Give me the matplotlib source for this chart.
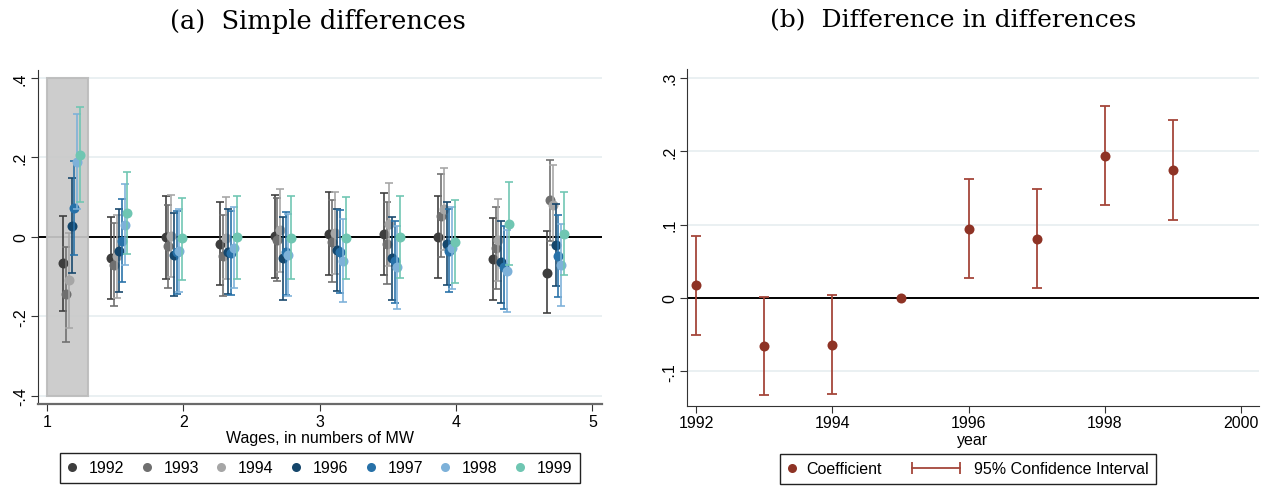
import numpy as np
import matplotlib
matplotlib.use("Agg")
import matplotlib.pyplot as plt
from matplotlib.lines import Line2D
from matplotlib.patches import Rectangle
from matplotlib.legend_handler import HandlerLine2D

plt.rcParams['font.family'] = ['Liberation Sans', 'DejaVu Sans']

# ---- panel (a): simple differences by wage bin ----
bins = [1.15, 1.5, 1.9, 2.3, 2.7, 3.1, 3.5, 3.9, 4.3, 4.7]
years_a = ['1992', '1993', '1994', '1996', '1997', '1998', '1999']

coef_1992 = [-0.066, -0.053, 0.000, -0.018, 0.001, 0.008, 0.006, 0.000, -0.056, -0.090]
lo_1992 = [-0.186, -0.157, -0.105, -0.121, -0.103, -0.096, -0.097, -0.103, -0.159, -0.193]
hi_1992 = [0.053, 0.051, 0.102, 0.087, 0.105, 0.112, 0.110, 0.103, 0.048, 0.014]

coef_1993 = [-0.145, -0.070, -0.024, -0.048, -0.008, -0.012, -0.017, 0.053, -0.029, 0.092]
lo_1993 = [-0.264, -0.174, -0.128, -0.150, -0.111, -0.115, -0.120, -0.052, -0.132, -0.011]
hi_1993 = [-0.026, 0.034, 0.079, 0.056, 0.097, 0.092, 0.087, 0.158, 0.074, 0.194]

coef_1994 = [-0.110, -0.049, 0.001, -0.004, 0.018, 0.010, 0.031, 0.070, -0.008, 0.080]
lo_1994 = [-0.229, -0.153, -0.102, -0.107, -0.088, -0.094, -0.073, -0.034, -0.111, -0.021]
hi_1994 = [0.009, 0.055, 0.105, 0.099, 0.120, 0.114, 0.135, 0.173, 0.095, 0.181]

coef_1996 = [0.028, -0.035, -0.045, -0.038, -0.054, -0.033, -0.054, -0.018, -0.063, -0.021]
lo_1996 = [-0.092, -0.138, -0.148, -0.143, -0.158, -0.137, -0.158, -0.121, -0.167, -0.124]
hi_1996 = [0.147, 0.069, 0.059, 0.069, 0.050, 0.070, 0.049, 0.087, 0.040, 0.082]

coef_1997 = [0.073, -0.010, -0.039, -0.041, -0.039, -0.038, -0.060, -0.035, -0.075, -0.048]
lo_1997 = [-0.046, -0.113, -0.143, -0.146, -0.146, -0.141, -0.166, -0.138, -0.182, -0.152]
hi_1997 = [0.191, 0.094, 0.064, 0.064, 0.063, 0.067, 0.040, 0.070, 0.026, 0.055]

coef_1998 = [0.189, 0.030, -0.035, -0.027, -0.046, -0.060, -0.077, -0.029, -0.086, -0.070]
lo_1998 = [0.070, -0.072, -0.140, -0.130, -0.150, -0.164, -0.181, -0.132, -0.190, -0.174]
hi_1998 = [0.308, 0.134, 0.069, 0.076, 0.057, 0.044, 0.027, 0.074, 0.018, 0.032]

coef_1999 = [0.206, 0.061, -0.004, 0.000, -0.002, -0.002, -0.001, -0.013, 0.033, 0.008]
lo_1999 = [0.087, -0.043, -0.108, -0.106, -0.105, -0.106, -0.104, -0.116, -0.071, -0.096]
hi_1999 = [0.326, 0.164, 0.098, 0.102, 0.102, 0.101, 0.103, 0.092, 0.137, 0.112]

coefs_a = [coef_1992, coef_1993, coef_1994, coef_1996, coef_1997, coef_1998, coef_1999]
los_a = [lo_1992, lo_1993, lo_1994, lo_1996, lo_1997, lo_1998, lo_1999]
his_a = [hi_1992, hi_1993, hi_1994, hi_1996, hi_1997, hi_1998, hi_1999]

# ---- panel (b): difference in differences ----
years_b = [1992, 1993, 1994, 1995, 1996, 1997, 1998, 1999]
coef_b = [0.017, -0.066, -0.064, 0.000, 0.094, 0.080, 0.193, 0.174]
lo_b = [-0.050, -0.133, -0.131, np.nan, 0.027, 0.013, 0.126, 0.106]
hi_b = [0.085, 0.001, 0.004, np.nan, 0.162, 0.148, 0.261, 0.242]

colors = ['#3d3d3d', '#6f6f6f', '#a6a6a6', '#15466b', '#2771a8', '#7db1d9', '#6fc6b2']
offsets = [-0.03, -0.01, 0.01, 0.03, 0.05, 0.07, 0.09]
grid_c = '#e6eef0'
red = '#8e3325'
red_line = '#a5463a'
title_font = 'DejaVu Serif'


class WideLine(HandlerLine2D):
    # longer handle for the CI entry only
    def legend_artist(self, legend, orig_handle, fontsize, handlebox):
        handlebox.width = 42
        return super().legend_artist(legend, orig_handle, fontsize, handlebox)


fig = plt.figure(figsize=(12.7, 4.89), dpi=100)

# ---------- left panel ----------
ax = fig.add_axes([37.6 / 1270, 84 / 489, 564.4 / 1270, 334 / 489])
for yv in [-0.4, -0.2, 0.2, 0.4]:
    ax.axhline(yv, color=grid_c, lw=1.2, zorder=0)
ax.axhline(0, color='black', lw=1.4, zorder=1)
ax.add_patch(Rectangle((1.0, -0.4), 0.3, 0.8, facecolor='#c9c9c9', edgecolor='#bcbcbc',
                       lw=1.5, alpha=0.92, zorder=2))
bins_arr = np.array(bins)
for i, yr in enumerate(years_a):
    x = bins_arr + offsets[i]
    c = np.array(coefs_a[i])
    lo = np.array(los_a[i])
    hi = np.array(his_a[i])
    ax.errorbar(x, c, yerr=[c - lo, hi - c], fmt='none', ecolor=colors[i], elinewidth=1.3,
                capsize=2.8, capthick=1.3, alpha=0.9, zorder=3 + i)
    ax.plot(x, c, 'o', color=colors[i], ms=7.2, mec='none', zorder=3 + i, label=yr)

ax.set_xlim(0.931, 5.07)
ax.set_ylim(-0.421, 0.42)
ax.set_xticks([1, 2, 3, 4, 5])
ax.set_yticks([-0.4, -0.2, 0, 0.2, 0.4])
ax.set_yticklabels(['-.4', '-.2', '0', '.2', '.4'], rotation=90, va='center')
ax.set_xlabel('Wages, in numbers of MW', fontsize=11.5, labelpad=1)
ax.spines['top'].set_visible(False)
ax.spines['right'].set_visible(False)
ax.spines['left'].set_color('#333333')
ax.spines['bottom'].set_color('#6a6a6a')
ax.spines['bottom'].set_linewidth(1.6)
ax.tick_params(axis='both', labelsize=11.5, length=5, color='#333333', pad=2)
fig.text(318 / 1270, 1 - 21 / 489, '(a)  Simple differences', fontsize=18.5,
         family=title_font, ha='center', va='center')

handles_a = [Line2D([], [], marker='o', ls='none', color=colors[i], ms=6.5, mec='none')
             for i in range(len(years_a))]
fig.legend(handles_a, years_a, loc='center', bbox_to_anchor=(320 / 1270, 1 - 469 / 489),
           ncol=7, fontsize=11.5, frameon=True, fancybox=False, edgecolor='#222222',
           handlelength=0.6, handletextpad=0.75, columnspacing=1.1, borderpad=0.45,
           framealpha=1)

# ---------- right panel ----------
bx = fig.add_axes([686.8 / 1270, 82.3 / 489, 571.8 / 1270, 336.7 / 489])
for yv in [-0.1, 0.1, 0.2, 0.3]:
    bx.axhline(yv, color=grid_c, lw=1.2, zorder=0)
bx.axhline(0, color='black', lw=1.4, zorder=1)
cb = np.array(coef_b)
lob = np.array(lo_b)
hib = np.array(hi_b)
bx.errorbar(years_b, cb, yerr=[cb - lob, hib - cb], fmt='none', ecolor=red_line,
            elinewidth=1.3, capsize=3.3, capthick=1.3, zorder=3)
bx.plot(years_b, cb, 'o', color=red, ms=7.2, mec='none', zorder=4)
bx.set_xlim(1991.86, 2000.26)
bx.set_ylim(-0.147, 0.312)
bx.set_xticks([1992, 1994, 1996, 1998, 2000])
bx.set_yticks([-0.1, 0, 0.1, 0.2, 0.3])
bx.set_yticklabels(['-.1', '0', '.1', '.2', '.3'], rotation=90, va='center')
bx.set_xlabel('year', fontsize=11.5, labelpad=1)
bx.spines['top'].set_visible(False)
bx.spines['right'].set_visible(False)
bx.spines['left'].set_color('#333333')
bx.spines['bottom'].set_color('#333333')
bx.tick_params(axis='both', labelsize=11.5, length=5, color='#333333', pad=2)
fig.text(953 / 1270, 1 - 21 / 489, '(b)  Difference in differences', fontsize=18,
         family=title_font, ha='center', va='center')

h_coef = Line2D([], [], marker='o', ls='none', color=red, ms=6.5, mec='none')
h_ci = Line2D([], [], color=red_line, lw=1.3, marker='|', ms=8, mew=1.3)
fig.legend([h_coef, h_ci], ['Coefficient', '95% Confidence Interval'], loc='center',
           bbox_to_anchor=(968 / 1270, 1 - 470 / 489), ncol=2, fontsize=11.5, frameon=True,
           fancybox=False, edgecolor='#222222', handlelength=0.6, handletextpad=0.55,
           columnspacing=1.6, borderpad=0.45, framealpha=1,
           handler_map={h_coef: HandlerLine2D(numpoints=1), h_ci: WideLine(numpoints=2)})

fig.savefig('out.png', dpi=100)
